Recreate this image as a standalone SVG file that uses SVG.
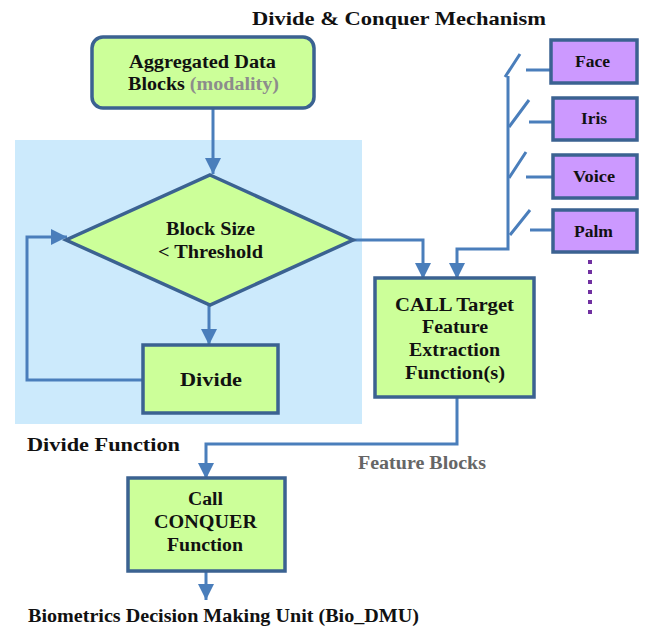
<svg xmlns="http://www.w3.org/2000/svg" width="645" height="627" viewBox="0 0 645 627">
<style>
text{font-family:"Liberation Serif","Times New Roman",serif;font-weight:bold;fill:#111;}
.t{font-size:18px;text-anchor:middle;}
.s{font-size:17px;text-anchor:middle;}
.l{font-size:19px;}
.g{fill:#ccff99;stroke:#3b6291;stroke-width:3.5;}
.p{fill:#cc99ff;stroke:#3b6291;stroke-width:3.5;}
.c{fill:none;stroke:#4a7ebb;stroke-width:3;}
</style>
<defs>
<marker id="a" viewBox="0 0 10 10" refX="10" refY="5" markerWidth="16" markerHeight="16" markerUnits="userSpaceOnUse" orient="auto">
<path d="M0,0 L10,5 L0,10 Z" fill="#4a7ebb"/>
</marker>
</defs>
<rect x="15" y="140" width="347" height="284" fill="#cceafc"/>
<text class="l" x="252" y="25" textLength="294" lengthAdjust="spacingAndGlyphs">Divide &amp; Conquer Mechanism</text>
<g id="connectors">
<path class="c" d="M213,108 V174" marker-end="url(#a)"/>
<path class="c" d="M209,305 V345" marker-end="url(#a)"/>
<path class="c" d="M143,380 H27 V237 H67" marker-end="url(#a)"/>
<path class="c" d="M353,240 H423 V279" marker-end="url(#a)"/>
<path class="c" d="M508,76 V249 H457 V279" marker-end="url(#a)"/>
<path class="c" d="M505,77 L520,54 M526,70 H551"/>
<path class="c" d="M509,127 L529,100 M529,122 H553"/>
<path class="c" d="M509,178 L526,152 M526,177 H553"/>
<path class="c" d="M510,235 L530,210 M530,230 H553"/>
<path class="c" d="M457,397 V444 H206 V479" marker-end="url(#a)"/>
<path class="c" d="M206,571 V600" marker-end="url(#a)"/>
<path d="M590,260 V318" fill="none" stroke="#7030a0" stroke-width="4" stroke-dasharray="4,6"/>
</g>
<g id="aggregated">
<rect class="g" x="92" y="37" width="222" height="71" rx="11"/>
<text class="t" x="202.5" y="68" textLength="147" lengthAdjust="spacingAndGlyphs">Aggregated Data</text>
<text class="t" x="203.5" y="90" textLength="151" lengthAdjust="spacingAndGlyphs">Blocks <tspan fill="#8c8c8c">(modality)</tspan></text>
</g>
<g id="decision">
<polygon class="g" points="210,175 353,240 210,305 66,240"/>
<text class="t" x="210.5" y="235" textLength="89" lengthAdjust="spacingAndGlyphs">Block Size</text>
<text class="t" x="210.5" y="258" textLength="105" lengthAdjust="spacingAndGlyphs">&lt; Threshold</text>
</g>
<g id="divide">
<rect class="g" x="143" y="345" width="135" height="68"/>
<text class="t" x="211" y="386" textLength="62" lengthAdjust="spacingAndGlyphs">Divide</text>
</g>
<g id="call-target">
<rect class="g" x="375" y="278" width="159" height="119"/>
<text class="t" x="454.5" y="311" textLength="119" lengthAdjust="spacingAndGlyphs">CALL Target</text>
<text class="t" x="455" y="333" textLength="66" lengthAdjust="spacingAndGlyphs">Feature</text>
<text class="t" x="454.5" y="356" textLength="91" lengthAdjust="spacingAndGlyphs">Extraction</text>
<text class="t" x="455" y="379" textLength="100" lengthAdjust="spacingAndGlyphs">Function(s)</text>
</g>
<g id="face">
<rect class="p" x="551" y="40" width="86" height="43"/>
<text class="s" x="592.5" y="67" textLength="35" lengthAdjust="spacingAndGlyphs">Face</text>
</g>
<g id="iris">
<rect class="p" x="553" y="98" width="84" height="42"/>
<text class="s" x="594" y="124" textLength="26" lengthAdjust="spacingAndGlyphs">Iris</text>
</g>
<g id="voice">
<rect class="p" x="553" y="155" width="84" height="43"/>
<text class="s" x="594" y="182" textLength="42" lengthAdjust="spacingAndGlyphs">Voice</text>
</g>
<g id="palm">
<rect class="p" x="553" y="210" width="84" height="42"/>
<text class="s" x="593.5" y="237" textLength="39" lengthAdjust="spacingAndGlyphs">Palm</text>
</g>
<text class="l" x="27" y="451" textLength="153" lengthAdjust="spacingAndGlyphs">Divide Function</text>
<text x="358" y="469" style="font-size:18px;fill:#666" textLength="128" lengthAdjust="spacingAndGlyphs">Feature Blocks</text>
<g id="conquer">
<rect class="g" x="128" y="478" width="157" height="93"/>
<text class="t" x="205.5" y="505" textLength="35" lengthAdjust="spacingAndGlyphs">Call</text>
<text class="t" x="205.5" y="528" textLength="103" lengthAdjust="spacingAndGlyphs">CONQUER</text>
<text class="t" x="205" y="551" textLength="76" lengthAdjust="spacingAndGlyphs">Function</text>
</g>
<text class="l" x="28" y="622" textLength="391" lengthAdjust="spacingAndGlyphs">Biometrics Decision Making Unit (Bio_DMU)</text>
</svg>
